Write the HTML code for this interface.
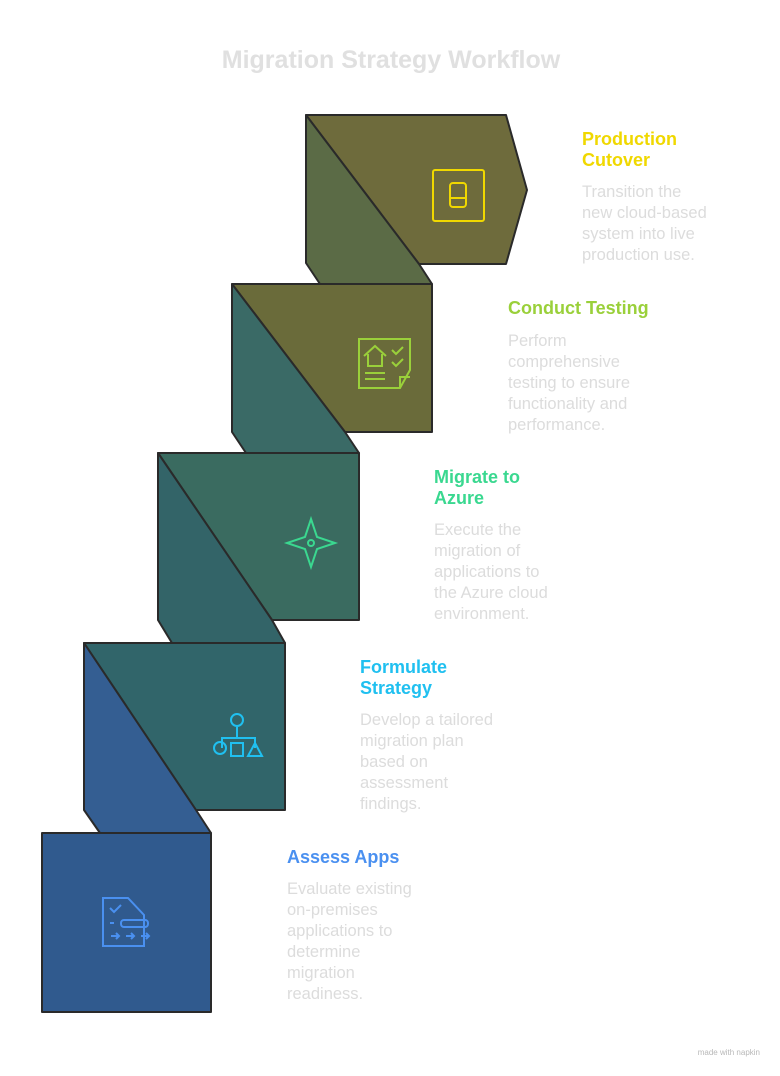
<!DOCTYPE html>
<html><head><meta charset="utf-8"><style>
html,body{margin:0;padding:0;background:#fff;}
svg{display:block;}
text{font-family:"Liberation Sans",sans-serif;}
.h{font-weight:bold;font-size:18px;}
.b{fill:#dcdcdc;font-size:16.5px;}
</style></head><body>
<svg width="780" height="1076" viewBox="0 0 780 1076" xmlns="http://www.w3.org/2000/svg">
<rect width="780" height="1076" fill="#fff"/>
<text x="391" y="68" text-anchor="middle" font-size="25" font-weight="bold" fill="#e0e0e0">Migration Strategy Workflow</text>
<g stroke="#2a2a2a" stroke-width="2" stroke-linejoin="round">
<polygon points="306,115 506,115 527,190 506,264 419,264" fill="#6e6b3c"/>
<polygon points="306,115 419,264 432,284 320,284 306,263" fill="#5b6b46"/>
<polygon points="232,284 432,284 432,432 345,432" fill="#6a6b3a"/>
<polygon points="232,284 345,432 359,453 246,453 232,432" fill="#3a6a66"/>
<polygon points="158,453 359,453 359,620 272,620" fill="#3a6b60"/>
<polygon points="158,453 272,620 285,643 172,643 158,620" fill="#336468"/>
<polygon points="84,643 285,643 285,810 196,810" fill="#31656a"/>
<polygon points="84,643 196,810 211,833 100,833 84,810" fill="#345e92"/>
<rect x="42" y="833" width="169" height="179" fill="#305a8e"/>
</g>
<g fill="none" stroke="#f0d800" stroke-width="2">
<rect x="433" y="170" width="51" height="51" rx="2"/>
<rect x="450" y="183" width="16" height="24" rx="3"/><line x1="450" y1="198" x2="466" y2="198"/>
</g>
<g fill="none" stroke="#9ad03a" stroke-width="2">
<path d="M359 339 H410 V370 L400 388 H359 Z"/><path d="M400 388 V377 H410"/>
<path d="M364 356 L375 346 L386 356 M368 354 V366 H382 V354"/>
<path d="M392 350 l4 4 7-7 M392 362 l4 4 7-7"/><line x1="365" y1="373" x2="385" y2="373"/><line x1="365" y1="379" x2="385" y2="379"/>
</g>
<g fill="none" stroke="#3ad890" stroke-width="2">
<path d="M311 519 L317 537 L335 543 L317 549 L311 567 L305 549 L287 543 L305 537 Z"/><circle cx="311" cy="543" r="3"/>
</g>
<g fill="none" stroke="#20c0f0" stroke-width="2">
<circle cx="237" cy="720" r="6"/><line x1="237" y1="727" x2="237" y2="738"/>
<path d="M222 748 V738 H255 V748"/><circle cx="220" cy="748" r="6"/><rect x="231" y="743" width="12" height="13"/>
<path d="M255 743 L262 756 H248 Z"/>
</g>
<g fill="none" stroke="#4a90f0" stroke-width="2">
<path d="M103 898 H128 L144 915 V946 H103 Z"/><path d="M110 908 l4 4 7-7"/>
<rect x="121" y="920" width="27" height="7" rx="3"/><line x1="110" y1="923" x2="114" y2="923"/>
<path d="M111 936 h8 m-3 -3 l3 3 -3 3 M126 936 h8 m-3 -3 l3 3 -3 3 M141 936 h8 m-3 -3 l3 3 -3 3"/>
</g>
<text class="h" x="582" y="145" fill="#f0d800">Production</text>
<text class="h" x="582" y="166" fill="#f0d800">Cutover</text>
<text class="b" x="582" y="197">Transition the</text>
<text class="b" x="582" y="218">new cloud-based</text>
<text class="b" x="582" y="239">system into live</text>
<text class="b" x="582" y="260">production use.</text>

<text class="h" x="508" y="314" fill="#9ad03a">Conduct Testing</text>
<text class="b" x="508" y="346">Perform</text>
<text class="b" x="508" y="367">comprehensive</text>
<text class="b" x="508" y="388">testing to ensure</text>
<text class="b" x="508" y="409">functionality and</text>
<text class="b" x="508" y="430">performance.</text>

<text class="h" x="434" y="483" fill="#3ad890">Migrate to</text>
<text class="h" x="434" y="504" fill="#3ad890">Azure</text>
<text class="b" x="434" y="535">Execute the</text>
<text class="b" x="434" y="556">migration of</text>
<text class="b" x="434" y="577">applications to</text>
<text class="b" x="434" y="598">the Azure cloud</text>
<text class="b" x="434" y="619">environment.</text>

<text class="h" x="360" y="673" fill="#20c0f0">Formulate</text>
<text class="h" x="360" y="694" fill="#20c0f0">Strategy</text>
<text class="b" x="360" y="725">Develop a tailored</text>
<text class="b" x="360" y="746">migration plan</text>
<text class="b" x="360" y="767">based on</text>
<text class="b" x="360" y="788">assessment</text>
<text class="b" x="360" y="809">findings.</text>

<text class="h" x="287" y="863" fill="#4a90f0">Assess Apps</text>
<text class="b" x="287" y="894">Evaluate existing</text>
<text class="b" x="287" y="915">on-premises</text>
<text class="b" x="287" y="936">applications to</text>
<text class="b" x="287" y="957">determine</text>
<text class="b" x="287" y="978">migration</text>
<text class="b" x="287" y="999">readiness.</text>

<text x="760" y="1055" text-anchor="end" font-size="8" fill="#b8b8b8">made with napkin</text>
</svg>
</body></html>
